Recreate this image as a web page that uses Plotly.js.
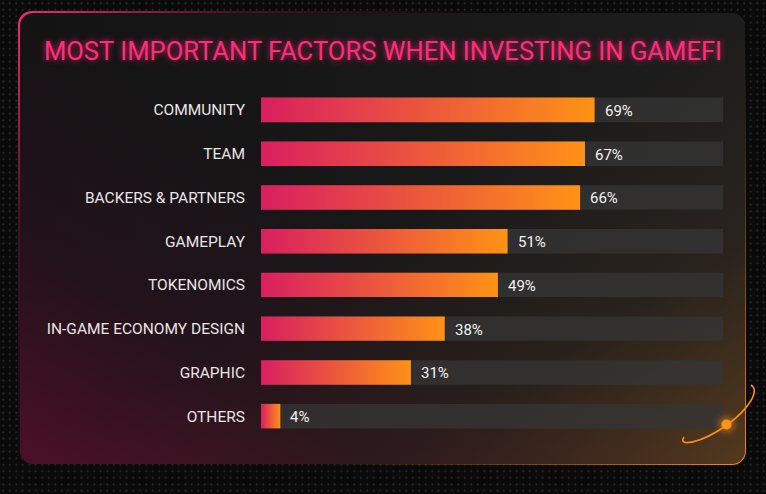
<!DOCTYPE html>
<html>
<head>
<meta charset="utf-8">
<script src="https://cdn.plot.ly/plotly-3.0.1.min.js"></script>
<style>
  html, body { margin:0; padding:0; width:766px; height:494px; overflow:hidden;
    background-color:#0a0a0a;
    background-image: radial-gradient(circle, #2c2c2c 0.8px, transparent 1.2px);
    background-size: 6.5px 6.5px; }
  #frame { position:absolute; left:18px; top:11px; width:728px; height:454px; border-radius:14px;
    padding:1.5px; box-sizing:border-box;
    background: linear-gradient(135deg, #ff2b6e 0%, rgba(255,43,110,0.25) 18%, rgba(60,40,40,0.0) 40%, rgba(60,40,40,0) 65%, rgba(255,140,20,0.5) 85%, #ff8c14 100%); }
  #panel { width:100%; height:100%; border-radius:13px;
    background:
      linear-gradient(to top right, rgba(95,15,45,0.75) 0%, rgba(60,15,35,0.35) 25%, rgba(0,0,0,0) 50%),
      linear-gradient(to top left, rgba(150,90,30,0.45) 0%, rgba(90,60,30,0.2) 25%, rgba(0,0,0,0) 50%),
      linear-gradient(to right, #141314 0%, #1d1d1d 100%); }
  #chart { position:absolute; left:0; top:0; width:766px; height:494px; }
  #orbit { position:absolute; left:0; top:0; pointer-events:none; }
</style>
</head>
<body>
<div id="frame"><div id="panel"></div></div>
<div id="chart"></div>
<svg id="orbit" width="766" height="494">
  <defs>
    <filter id="glow" x="-100%" y="-100%" width="300%" height="300%">
      <feGaussianBlur stdDeviation="3"/>
    </filter>
  </defs>
  <path d="M684,437 C677,447 700,444 727,425 C750,408 760,390 751,385" fill="none" stroke="#ff8c14" stroke-width="1.6"/>
  <circle cx="726.5" cy="424.5" r="8" fill="#ff8c14" opacity="0.5" filter="url(#glow)"/>
  <circle cx="726.5" cy="424.5" r="5" fill="#ff9416"/>
</svg>
<script>
const categories = ["COMMUNITY","TEAM","BACKERS & PARTNERS","GAMEPLAY","TOKENOMICS","IN-GAME ECONOMY DESIGN","GRAPHIC","OTHERS"];
const values = [69, 67, 66, 51, 49, 38, 31, 4];
const valueLabels = ["69%","67%","66%","51%","49%","38%","31%","4%"];
const axisMax = 95.55;
const trackValues = categories.map(() => axisMax);

const track = {
  type:'bar', orientation:'h', y:categories, x:trackValues,
  marker:{color:'rgba(52,52,52,0.8)', line:{width:0}}, width:0.56,
  hoverinfo:'skip', showlegend:false
};
const bars = {
  type:'bar', orientation:'h', y:categories, x:values,
  marker:{color:'#ea5a3a', line:{width:0}}, width:0.56,
  hoverinfo:'skip', showlegend:false
};

const annotations = values.map((v,i) => ({
  x:v, y:categories[i], xref:'x', yref:'y', text:valueLabels[i], showarrow:false,
  xanchor:'left', yanchor:'middle', xshift:8, yshift:-1,
  font:{family:'Roboto, sans-serif', size:15, color:'#f2f2f2'}
}));

const layout = {
  width:766, height:494,
  margin:{l:261, r:43, t:88, b:56},
  paper_bgcolor:'rgba(0,0,0,0)', plot_bgcolor:'rgba(0,0,0,0)',
  barmode:'overlay',
  title:{text:'MOST IMPORTANT FACTORS WHEN INVESTING IN GAMEFI', xref:'container', yref:'container',
    x:0.5, xanchor:'center', y:1-51/494, yanchor:'middle',
    font:{family:'Roboto, sans-serif', size:25.6, color:'#ff2d78', shadow:'0 0 6px rgba(255,40,120,0.8)'}},
  xaxis:{range:[0, axisMax], visible:false, fixedrange:true},
  yaxis:{type:'category', categoryorder:'array', categoryarray:categories, autorange:'reversed',
    showgrid:false, zeroline:false, showline:false, ticks:'', ticklabelstandoff:15,
    tickfont:{family:'Roboto, sans-serif', size:15.5, color:'#e9e4e7'}, fixedrange:true},
  annotations:annotations
};

Plotly.newPlot('chart', [track, bars], layout, {displayModeBar:false, staticPlot:true}).then(gd => {
  const svg = gd.querySelector('svg.main-svg');
  const ns = 'http://www.w3.org/2000/svg';
  let defs = svg.querySelector('defs');
  const lg = document.createElementNS(ns, 'linearGradient');
  lg.setAttribute('id', 'barGrad');
  lg.setAttribute('x1','0'); lg.setAttribute('y1','0'); lg.setAttribute('x2','1'); lg.setAttribute('y2','0');
  [['0','#d91f60'],['0.5','#ec583c'],['1','#ff9216']].forEach(([o,c]) => {
    const s = document.createElementNS(ns,'stop'); s.setAttribute('offset',o); s.setAttribute('stop-color',c); lg.appendChild(s);
  });
  defs.appendChild(lg);
  const traces = gd.querySelectorAll('.barlayer .trace');
  const last = traces[traces.length-1];
  last.querySelectorAll('path').forEach(p => { p.style.fill = 'url(#barGrad)'; });
});
</script>
</body>
</html>
